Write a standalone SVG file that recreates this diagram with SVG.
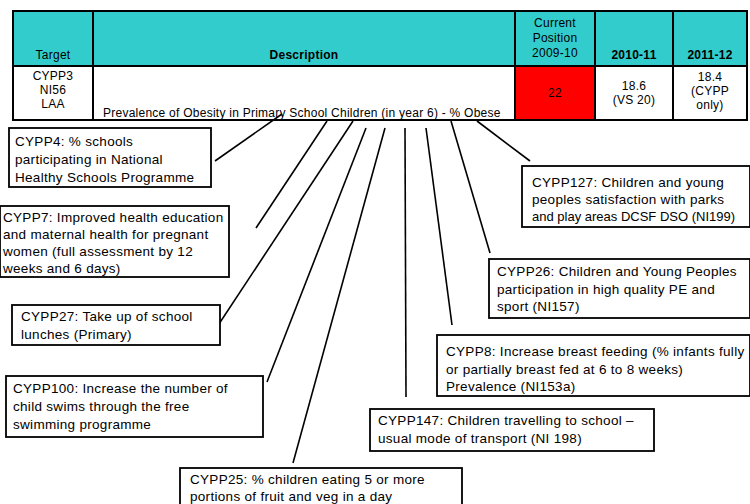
<svg xmlns="http://www.w3.org/2000/svg" width="750" height="504" viewBox="0 0 750 504">
<style>
.t{font-family:"Liberation Sans",Arial,sans-serif;font-size:12px;letter-spacing:0.25px;fill:#000}
.b{font-weight:bold}
.m{text-anchor:middle}
.bx{fill:#fff;stroke:#000;stroke-width:1.8}
.bt{font-family:"Liberation Sans",Arial,sans-serif;font-size:13.5px;letter-spacing:0.3px;fill:#000}
.tight{font-size:13px;letter-spacing:0px}
.ln{stroke:#000;stroke-width:1.6;fill:none}
.grid{stroke:#000;stroke-width:2;fill:none}
</style>
<rect width="750" height="504" fill="#fff"/>
<g id="table">
<rect x="13" y="11" width="734" height="55" fill="#33CCCC"/>
<rect x="13" y="66" width="734" height="54" fill="#fff"/>
<rect x="515" y="66" width="80" height="54" fill="#FF0000"/>
<rect x="13" y="11" width="734" height="109" class="grid"/>
<line x1="13" y1="66" x2="747" y2="66" class="grid"/>
<line x1="93" y1="11" x2="93" y2="120" class="grid"/>
<line x1="515" y1="11" x2="515" y2="120" class="grid"/>
<line x1="595" y1="11" x2="595" y2="120" class="grid"/>
<line x1="673" y1="11" x2="673" y2="120" class="grid"/>
<text class="t m" x="53" y="59">Target</text>
<text class="t b m" x="304" y="59">Description</text>
<text class="t m" x="555" y="27">Current</text>
<text class="t m" x="555" y="42">Position</text>
<text class="t m" x="555" y="57">2009-10</text>
<text class="t b m" x="634" y="59">2010-11</text>
<text class="t b m" x="710" y="59">2011-12</text>
<text class="t m" x="53" y="80">CYPP3</text>
<text class="t m" x="53" y="94">NI56</text>
<text class="t m" x="53" y="108">LAA</text>
<text class="t" x="103" y="117">Prevalence of Obesity in Primary School Children (in year 6) - % Obese</text>
<text class="t m" x="555" y="97" fill="#330000">22</text>
<text class="t m" x="634" y="90">18.6</text>
<text class="t m" x="634" y="104">(VS 20)</text>
<text class="t m" x="710" y="81">18.4</text>
<text class="t m" x="710" y="95">(CYPP</text>
<text class="t m" x="710" y="109">only)</text>
</g>
<g id="connectors">
<line class="ln" x1="282" y1="114" x2="215" y2="161"/>
<line class="ln" x1="327" y1="121" x2="256" y2="228"/>
<line class="ln" x1="353" y1="121" x2="215" y2="330"/>
<line class="ln" x1="366" y1="128" x2="267" y2="382"/>
<line class="ln" x1="385" y1="128" x2="293" y2="463"/>
<line class="ln" x1="405" y1="128" x2="406" y2="397"/>
<line class="ln" x1="426" y1="128" x2="452" y2="325"/>
<line class="ln" x1="451" y1="121" x2="490" y2="253"/>
<line class="ln" x1="477" y1="121" x2="530" y2="161"/>
</g>
<g id="cypp4">
<rect class="bx" x="9" y="128" width="202" height="59"/>
<text class="bt" x="15" y="146">CYPP4: % schools</text>
<text class="bt" x="15" y="164">participating in National</text>
<text class="bt" x="15" y="182">Healthy Schools Programme</text>
</g>
<g id="cypp7">
<rect class="bx" x="0" y="206" width="229" height="71"/>
<text class="bt" x="3" y="222">CYPP7: Improved health education</text>
<text class="bt" x="3" y="239">and maternal health for pregnant</text>
<text class="bt" x="3" y="256">women (full assessment by 12</text>
<text class="bt" x="3" y="273">weeks and 6 days)</text>
</g>
<g id="cypp27">
<rect class="bx" x="12" y="305" width="208" height="40"/>
<text class="bt" x="21" y="321">CYPP27: Take up of school</text>
<text class="bt" x="21" y="339">lunches (Primary)</text>
</g>
<g id="cypp100">
<rect class="bx" x="6" y="376" width="257" height="61"/>
<text class="bt" x="13" y="393">CYPP100: Increase the number of</text>
<text class="bt" x="13" y="411">child swims through the free</text>
<text class="bt" x="13" y="429">swimming programme</text>
</g>
<g id="cypp25">
<rect class="bx" x="180" y="468" width="282" height="40"/>
<text class="bt" x="190" y="484">CYPP25: % children eating 5 or more</text>
<text class="bt" x="190" y="501">portions of fruit and veg  in a day</text>
</g>
<g id="cypp147">
<rect class="bx" x="370" y="409" width="284" height="42"/>
<text class="bt" x="378" y="425">CYPP147: Children travelling to school –</text>
<text class="bt" x="378" y="443">usual mode of transport (NI 198)</text>
</g>
<g id="cypp8">
<rect class="bx" x="437" y="335" width="313" height="61"/>
<text class="bt" x="446" y="356">CYPP8: Increase breast feeding (% infants fully</text>
<text class="bt" x="446" y="374">or partially breast fed at 6 to 8 weeks)</text>
<text class="bt" x="446" y="391">Prevalence (NI153a)</text>
</g>
<g id="cypp26">
<rect class="bx" x="489" y="259" width="261" height="59"/>
<text class="bt" x="497" y="276">CYPP26: Children and Young Peoples</text>
<text class="bt" x="497" y="294">participation in high quality PE and</text>
<text class="bt" x="497" y="311">sport (NI157)</text>
</g>
<g id="cypp127">
<rect class="bx" x="522" y="166" width="228" height="61"/>
<text class="bt" x="532" y="187">CYPP127: Children and young</text>
<text class="bt" x="532" y="204">peoples satisfaction with parks</text>
<text class="bt tight" x="532" y="221">and play areas DCSF DSO (NI199)</text>
</g>
</svg>
